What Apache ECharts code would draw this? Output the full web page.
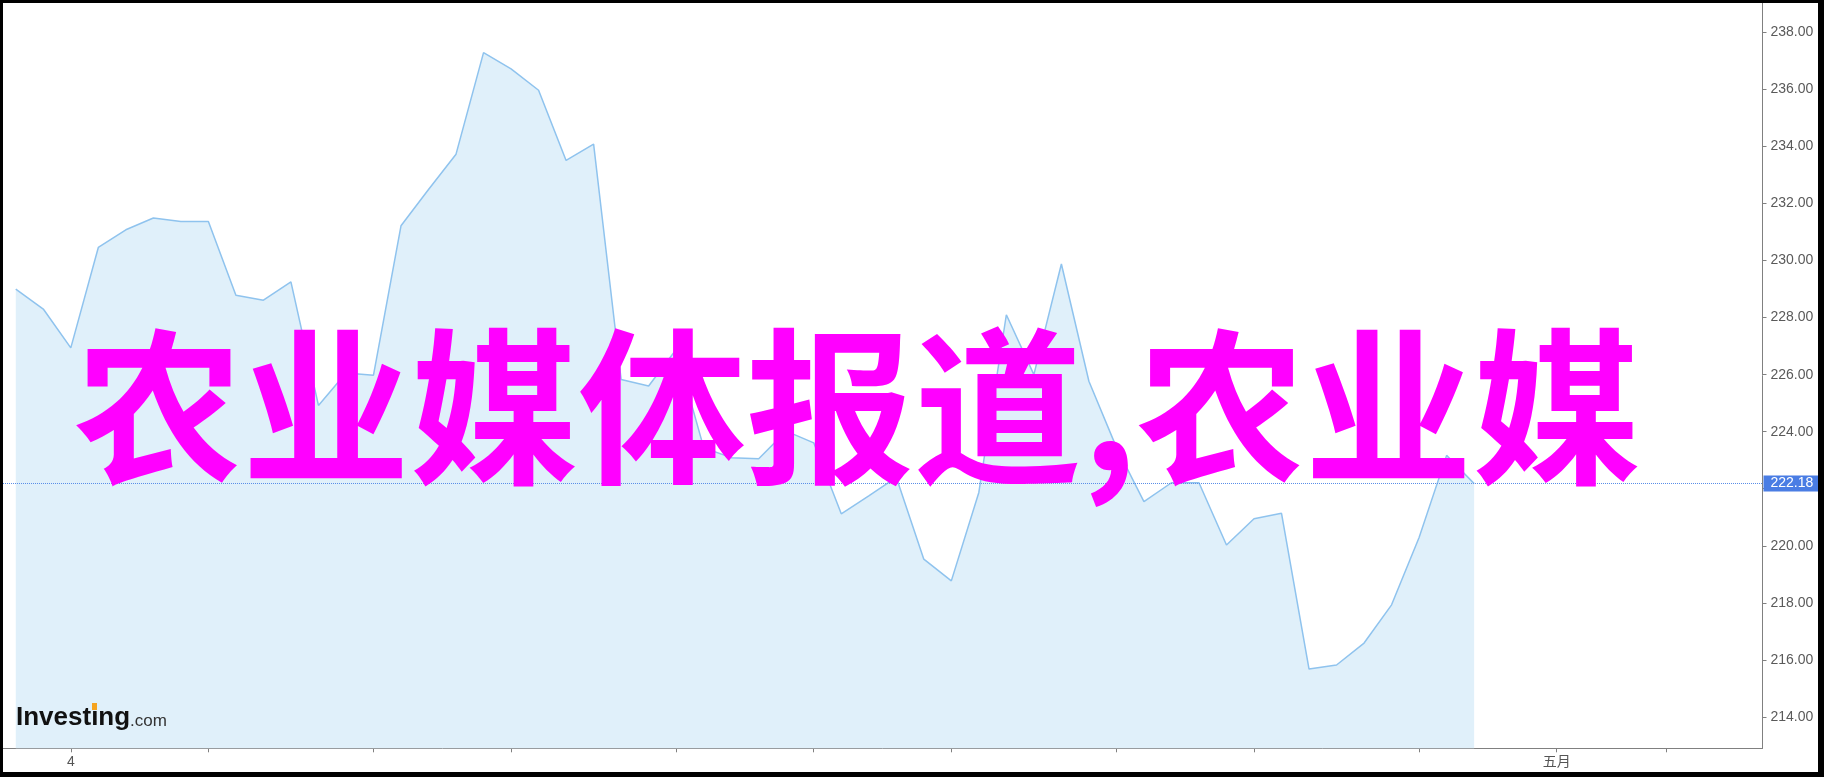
<!DOCTYPE html>
<html>
<head>
<meta charset="utf-8">
<script src="https://cdn.jsdelivr.net/npm/echarts@6/dist/echarts.min.js"></script>
<style>
  html, body { margin: 0; padding: 0; background: #000; width: 1824px; height: 777px; overflow: hidden; }
  #chart { position: absolute; left: 3px; top: 3px; width: 1815px; height: 769px; background: #fff; }
</style>
</head>
<body>
<div id="chart"></div>
<script>
// ---- data ----
const prices = [
  229.00, 228.30, 226.94, 230.46, 231.08, 231.49, 231.37, 231.37, 228.78, 228.61,
  229.25, 224.92, 226.06, 225.98, 231.22, 232.49, 233.73, 237.29, 236.72, 235.97,
  233.51, 234.08, 225.83, 225.60, 226.88, 223.44, 223.09, 223.05, 224.02, 223.61,
  221.12, 221.75, 222.40, 219.53, 218.77, 221.87, 228.10, 226.00, 229.88, 225.77,
  223.45, 221.55, 222.21, 222.21, 220.03, 220.95, 221.14, 215.68, 215.82, 216.59,
  217.93, 220.29, 223.17, 222.18
];
const lastPrice = 222.18;
const xTickIdx = [2, 7, 13, 18, 24, 29, 34, 40, 45, 51, 56, 60];
const xLabelIdx = [2, 56];
const xLabelText = ['4', '五月'];
const yTicks = [214, 216, 218, 220, 222, 224, 226, 228, 230, 232, 234, 236, 238];
const yLabels = [214, 216, 218, 220, 224, 226, 228, 230, 232, 234, 236, 238];
const overlayText = '农业媒体报道,农业媒';
const logoMain = 'Investing';
const logoSub = '.com';

const seriesData = prices.map((v, i) => [i, v]);

const chart = echarts.init(document.getElementById('chart'), null, { renderer: 'canvas' });
const labelFont = "'Liberation Sans', Arial, 'Noto Sans CJK SC', sans-serif";

chart.setOption({
  animation: false,
  backgroundColor: '#fff',
  grid: { left: 0, top: 0, width: 1759.5, height: 745.3, containLabel: false },
  xAxis: {
    type: 'value',
    min: -0.464,
    max: 63.48,
    axisLine: { show: true, onZero: false, lineStyle: { color: '#808080', width: 1 } },
    axisTick: { show: true, customValues: xTickIdx, length: 4, lineStyle: { color: '#808080' } },
    axisLabel: {
      show: true,
      customValues: xLabelIdx,
      formatter: v => { const k = xLabelIdx.indexOf(Math.round(v)); return k >= 0 ? xLabelText[k] : ''; },
      color: '#555', fontSize: 14, fontFamily: labelFont, margin: 7
    },
    splitLine: { show: false }
  },
  yAxis: {
    type: 'value',
    position: 'right',
    min: 212.9,
    max: 239.03,
    axisLine: { show: true, onZero: false, lineStyle: { color: '#808080', width: 1 } },
    axisTick: { show: true, customValues: yTicks, length: 4, lineStyle: { color: '#808080' } },
    axisLabel: {
      show: true,
      customValues: yLabels,
      formatter: v => Number(v).toFixed(2),
      color: '#5a5a5a', fontSize: 14, fontFamily: labelFont, margin: 8
    },
    splitLine: { show: false }
  },
  series: [{
    type: 'line',
    data: seriesData,
    symbol: 'none',
    smooth: false,
    lineStyle: { color: '#8fc3ee', width: 1.5 },
    areaStyle: { color: '#e0f0fa', opacity: 1, origin: 'start' },
    z: 2,
    markLine: {
      silent: true,
      symbol: 'none',
      animation: false,
      lineStyle: { type: 'dotted', color: '#5a8ee8', width: 1 },
      label: {
        show: true,
        position: 'end',
        distance: 1,
        formatter: () => lastPrice.toFixed(2),
        backgroundColor: '#4a7de4',
        color: '#fff',
        fontSize: 14,
        fontFamily: labelFont,
        padding: [1, 8, 1, 7]
      },
      data: [{ yAxis: lastPrice }]
    }
  }],
  graphic: [
    {
      type: 'text', z: 100,
      x: 71, y: 404,
      style: {
        text: overlayText,
        font: "bold 168px 'Noto Sans CJK SC'",
        fill: '#ff00ff',
        verticalAlign: 'middle',
        align: 'left'
      }
    },
    {
      type: 'text', z: 50,
      x: 13, y: 715,
      style: {
        text: logoMain,
        font: "bold 26px 'Liberation Sans', Arial, sans-serif",
        fill: '#111',
        verticalAlign: 'middle',
        align: 'left'
      }
    },
    {
      type: 'text', z: 50,
      x: 127, y: 718,
      style: {
        text: logoSub,
        font: "17px 'Liberation Sans', Arial, sans-serif",
        fill: '#333',
        verticalAlign: 'middle',
        align: 'left'
      }
    },
    {
      type: 'rect', z: 51,
      shape: { x: 89, y: 700, width: 5, height: 7 },
      style: { fill: '#f5a31f' }
    }
  ]
});
</script>
</body>
</html>
